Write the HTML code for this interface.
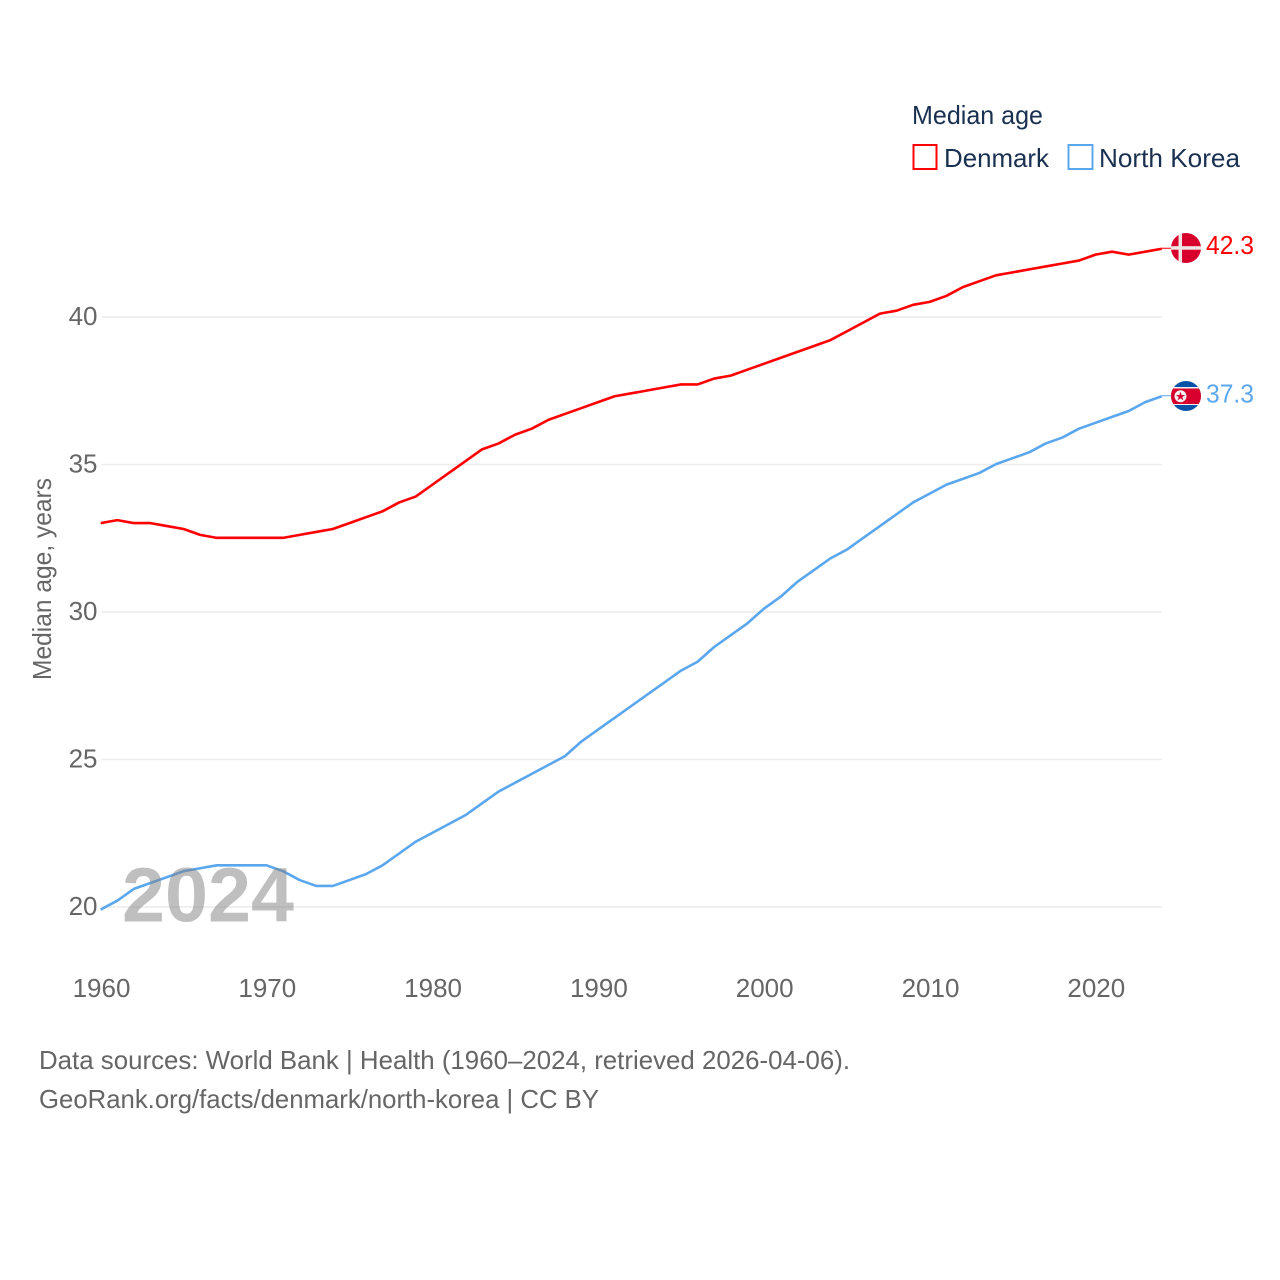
<!DOCTYPE html>
<html lang="en">
<head>
<meta charset="utf-8">
<title>Median age: Denmark and North Korea</title>
<style>
html,body{margin:0;padding:0;background:#fff;width:1280px;height:1280px;overflow:hidden}
svg{display:block}
text{font-family:"Liberation Sans",sans-serif}
.tick{font-size:26px;fill:#666}
.foot{font-size:26px;fill:#666}
.leg{font-size:26px;fill:#1a3050}
</style>
</head>
<body>
<svg id="chart" xmlns="http://www.w3.org/2000/svg" width="1280" height="1280" viewBox="0 0 1280 1280">
  <defs>
    <clipPath id="clip-dk"><circle id="clip-dk-c" cx="1186" cy="248" r="15"></circle></clipPath>
    <clipPath id="clip-kp"><circle id="clip-kp-c" cx="1186" cy="396" r="15"></circle></clipPath>
  </defs>
  <rect width="1280" height="1280" fill="#fff"></rect>
  <g id="grid"></g>
  <g id="yticks"></g>
  <g id="xticks"></g>
  <g id="lines" transform="translate(-0.8,-0.4)"></g>
  <text x="122" y="921.5" font-size="77" font-weight="700" fill="#808080" fill-opacity="0.5" textLength="172" lengthAdjust="spacingAndGlyphs">2024</text>
  <text class="tick" transform="translate(51,680) rotate(-90)" textLength="202" lengthAdjust="spacingAndGlyphs">Median age, years</text>

  <g>
    <text class="leg" x="912" y="124" textLength="131" lengthAdjust="spacingAndGlyphs">Median age</text>
    <rect x="913.5" y="145" width="23" height="24" fill="none" stroke="#ff0000" stroke-width="2"></rect>
    <text class="leg" x="944" y="167" textLength="105" lengthAdjust="spacingAndGlyphs">Denmark</text>
    <rect x="1068.5" y="145" width="24" height="24" fill="none" stroke="#5ba7ee" stroke-width="2"></rect>
    <text class="leg" x="1099" y="167" textLength="141" lengthAdjust="spacingAndGlyphs">North Korea</text>
  </g>

  <g id="flag-dk">
    <g clip-path="url(#clip-dk)">
      <rect x="1171" y="233" width="30" height="30" fill="#d8002c"></rect>
      <rect x="1178.5" y="233" width="3.5" height="30" fill="#f0e6e6"></rect>
      <rect x="1171" y="246.2" width="30" height="3.5" fill="#f0e6e6"></rect>
    </g>
  </g>
  <g id="flag-kp">
    <g clip-path="url(#clip-kp)">
      <rect x="1171" y="381" width="30" height="30" fill="#0a52a8"></rect>
      <rect x="1171" y="387" width="30" height="18" fill="#f2f2f2"></rect>
      <rect x="1171" y="388.5" width="30" height="15.5" fill="#d8002c"></rect>
      <circle cx="1180.5" cy="396.3" r="6" fill="#f2f2f2"></circle>
      <polygon points="1180.5,391.6 1181.6,395 1185.1,395 1182.3,397.1 1183.4,400.4 1180.5,398.4 1177.6,400.4 1178.7,397.1 1175.9,395 1179.4,395" fill="#d8002c"></polygon>
    </g>
  </g>
  <g id="endlabels"></g>

  <text class="foot" x="39" y="1069" textLength="811" lengthAdjust="spacingAndGlyphs">Data sources: World Bank | Health (1960–2024, retrieved 2026-04-06).</text>
  <text class="foot" x="39" y="1108" textLength="560" lengthAdjust="spacingAndGlyphs">GeoRank.org/facts/denmark/north-korea | CC BY</text>
</svg>
<script>
const startYear = 1960;
const denmark = [33.0,33.1,33.0,33.0,32.9,32.8,32.6,32.5,32.5,32.5,32.5,32.5,32.6,32.7,32.8,33.0,33.2,33.4,33.7,33.9,34.3,34.7,35.1,35.5,35.7,36.0,36.2,36.5,36.7,36.9,37.1,37.3,37.4,37.5,37.6,37.7,37.7,37.9,38.0,38.2,38.4,38.6,38.8,39.0,39.2,39.5,39.8,40.1,40.2,40.4,40.5,40.7,41.0,41.2,41.4,41.5,41.6,41.7,41.8,41.9,42.1,42.2,42.1,42.2,42.3];
const northKorea = [19.9,20.2,20.6,20.8,21.0,21.2,21.3,21.4,21.4,21.4,21.4,21.2,20.9,20.7,20.7,20.9,21.1,21.4,21.8,22.2,22.5,22.8,23.1,23.5,23.9,24.2,24.5,24.8,25.1,25.6,26.0,26.4,26.8,27.2,27.6,28.0,28.3,28.8,29.2,29.6,30.1,30.5,31.0,31.4,31.8,32.1,32.5,32.9,33.3,33.7,34.0,34.3,34.5,34.7,35.0,35.2,35.4,35.7,35.9,36.2,36.4,36.6,36.8,37.1,37.3];
const yTicks = [20,25,30,35,40];
const xTicks = [1960,1970,1980,1990,2000,2010,2020];

const NS = 'http://www.w3.org/2000/svg';
const xScale = function (year) { return 101.5 + (year - 1960) * 16.58; };
const yScale = function (v) { return 907 - (v - 20) * 29.5; };

function make(tag, parent, attrs, txt) {
  const el = document.createElementNS(NS, tag);
  for (const k in attrs) el.setAttribute(k, attrs[k]);
  if (txt !== undefined) el.textContent = txt;
  parent.appendChild(el);
  return el;
}

const gridG = document.getElementById('grid');
const yG = document.getElementById('yticks');
yTicks.forEach(function (t) {
  const ln = make('line', gridG, {x1: xScale(1960), x2: xScale(2024) - 0.6, y1: yScale(t), y2: yScale(t), stroke: '#ececec', 'stroke-width': 1.5});
  
  
  const lb = make('text', yG, {x: 97.5, y: yScale(t) + 8, 'text-anchor': 'end', class: 'tick'}, String(t));
  
  
});

const xG = document.getElementById('xticks');
xTicks.forEach(function (t) {
  const lb = make('text', xG, {x: xScale(t), y: 997, 'text-anchor': 'middle', class: 'tick'}, String(t));
  
  
});

function pointsFor(values) {
  return values.map(function (v, i) {
    return xScale(startYear + i).toFixed(2) + ',' + yScale(v).toFixed(2);
  }).join(' ');
}

const linesG = document.getElementById('lines');
const lastYear = startYear + denmark.length - 1;

const connDk = make('line', linesG, {x1: xScale(lastYear), x2: 1172, y1: yScale(denmark[denmark.length - 1]) - 0.5, y2: yScale(denmark[denmark.length - 1]) - 0.5, stroke: '#ff0000', 'stroke-width': 1});


const connKp = make('line', linesG, {x1: xScale(lastYear), x2: 1172, y1: yScale(northKorea[northKorea.length - 1]) - 0.5, y2: yScale(northKorea[northKorea.length - 1]) - 0.5, stroke: '#5ba7ee', 'stroke-width': 1});



const lineKp = make('polyline', linesG, {points: pointsFor(northKorea), fill: 'none', stroke: '#5ba7ee', 'stroke-width': 2.6, 'stroke-linejoin': 'round'});


const lineDk = make('polyline', linesG, {points: pointsFor(denmark), fill: 'none', stroke: '#ff0000', 'stroke-width': 2.6, 'stroke-linejoin': 'round'});



const endG = document.getElementById('endlabels');
const lastDk = denmark[denmark.length - 1];
const lastKp = northKorea[northKorea.length - 1];
const lblDk = make('text', endG, {x: 1206, y: yScale(lastDk) + 5, 'font-size': 26, fill: '#ff0000', textLength: 48, lengthAdjust: 'spacingAndGlyphs'}, lastDk.toFixed(1));


const lblKp = make('text', endG, {x: 1206, y: yScale(lastKp) + 6, 'font-size': 26, fill: '#5ba7ee', textLength: 48, lengthAdjust: 'spacingAndGlyphs'}, lastKp.toFixed(1));



document.getElementById('flag-dk').setAttribute('transform', 'translate(0,' + (yScale(lastDk) - 249.15) + ')');
document.getElementById('flag-kp').setAttribute('transform', 'translate(0,' + (yScale(lastKp) - 396.65) + ')');
</script>
</body>
</html>
